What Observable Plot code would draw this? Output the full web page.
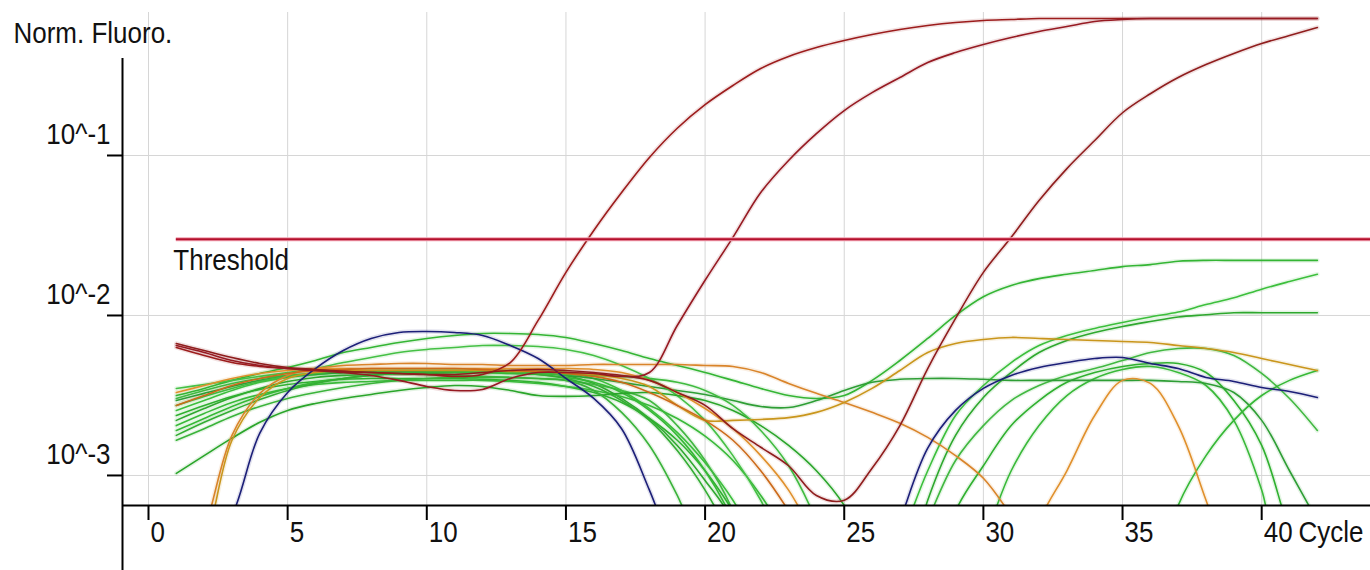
<!DOCTYPE html>
<html><head><meta charset="utf-8">
<script src="https://cdn.jsdelivr.net/npm/d3@7"></script>
<script src="https://cdn.jsdelivr.net/npm/@observablehq/plot@0.6"></script>
<style>body{margin:0;background:#fff}#chart{width:1370px;height:570px}</style>
</head><body><div id="chart"></div>
<script>
const cycles = [1,2,3,4,5,6,7,8,9,10,11,12,13,14,15,16,17,18,19,20,21,22,23,24,25,26,27,28,29,30,31,32,33,34,35,36,37,38,39,40,41,42];

const green1 = [0.00316,0.00350,0.00393,0.00434,0.00473,0.00523,0.00587,0.00631,0.00678,0.00718, 0.00750,0.00772,0.00772,0.00761,0.00729,0.00668,0.00604,0.00538,0.00487,0.00440, 0.00393,0.00350,0.00316,0.00303,0.00316,0.00393,0.00523,0.00718,0.0100,0.0131, 0.0154,0.0170,0.0181,0.0191,0.0202,0.0208,0.0218,0.0221,0.0221,0.0221, 0.0221,0.0221];
const green2 = [0.00255,0.00294,0.00340,0.00382,0.00410,0.00428,0.00440,0.00447,0.00453,0.00453, 0.00453,0.00453,0.00453,0.00447,0.00440,0.00404,0.00340,0.00262,0.00186,0.00120, 0.00070,0.00034,0.00017,0.00017,0.00017,0.00017,0.00039,0.00107,0.00237,0.00365, 0.00508,0.00649,0.00750,0.00830,0.00904,0.00979,0.0105,0.0117,0.0129,0.0146, 0.0163,0.0181];
const green3 = [0.00221,0.00262,0.00307,0.00350,0.00387,0.00410,0.00422,0.00428,0.00434,0.00434, 0.00440,0.00440,0.00440,0.00440,0.00422,0.00376,0.00303,0.00227,0.00154,0.00093, 0.00052,0.00017,0.00017,0.00017,0.00017,0.00017,0.00017,0.00070,0.00178,0.00307, 0.00440,0.00587,0.00698,0.00783,0.00854,0.00917,0.00979,0.0101,0.0104,0.0104, 0.0104,0.0104];
const green4 = [0.00303,0.00340,0.00376,0.00404,0.00422,0.00434,0.00440,0.00440,0.00434,0.00428, 0.00422,0.00416,0.00410,0.00404,0.00393,0.00370,0.00340,0.00294,0.00205,0.00124, 0.00060,0.00017,0.00017,0.00017,0.00017,0.00017,0.00017,0.00052,0.00124,0.00205, 0.00294,0.00365,0.00422,0.00466,0.00523,0.00587,0.00622,0.00622,0.00562,0.00434, 0.00303,0.00191];
const green5 = [0.00237,0.00274,0.00312,0.00345,0.00370,0.00387,0.00399,0.00404,0.00404,0.00404, 0.00404,0.00399,0.00393,0.00382,0.00360,0.00330,0.00286,0.00227,0.00166,0.00107, 0.00060,0.00030,0.00017,0.00017,0.00017,0.00017,0.00017,0.00017,0.00060,0.00115, 0.00205,0.00294,0.00382,0.00440,0.00480,0.00501,0.00501,0.00440,0.00294,0.00154, 0.00045,0.00017];
const green6 = [0.00205,0.00244,0.00286,0.00321,0.00350,0.00370,0.00382,0.00387,0.00393,0.00393, 0.00393,0.00393,0.00387,0.00376,0.00360,0.00340,0.00312,0.00274,0.00227,0.00176, 0.00124,0.00075,0.00039,0.00017,0.00017,0.00017,0.00017,0.00017,0.00017,0.00039, 0.00107,0.00205,0.00316,0.00404,0.00460,0.00480,0.00440,0.00365,0.00221,0.00081, 0.00017,0.00017];
const green7 = [0.00294,0.00326,0.00360,0.00393,0.00416,0.00428,0.00440,0.00447,0.00447,0.00447, 0.00447,0.00447,0.00440,0.00434,0.00422,0.00404,0.00382,0.00360,0.00340,0.00321, 0.00294,0.00270,0.00266,0.00294,0.00340,0.00382,0.00399,0.00404,0.00404,0.00399, 0.00393,0.00393,0.00393,0.00393,0.00393,0.00393,0.00387,0.00376,0.00330,0.00221, 0.00107,0.00052];
const green8 = [0.00191,0.00227,0.00270,0.00312,0.00350,0.00382,0.00404,0.00422,0.00434,0.00440, 0.00440,0.00440,0.00434,0.00428,0.00410,0.00382,0.00330,0.00255,0.00178,0.00107, 0.00052,0.00017,0.00017,0.00017,0.00017,0.00017,0.00017,0.00017,0.00017,0.00017, 0.00017,0.00017,0.00017,0.00017,0.00017,0.00017,0.00065,0.00133,0.00221,0.00316, 0.00393,0.00453];
const green9 = [0.00350,0.00370,0.00393,0.00416,0.00440,0.00466,0.00508,0.00546,0.00587,0.00613, 0.00631,0.00649,0.00649,0.00640,0.00613,0.00562,0.00487,0.00404,0.00316,0.00221, 0.00133,0.00070,0.00030,0.00017,0.00017,0.00017,0.00017,0.00017,0.00017,0.00017, 0.00017,0.00017,0.00017,0.00017,0.00017,0.00017,0.00017,0.00017,0.00017,0.00017, 0.00017,0.00017];
const green10 = [0.00103,0.00133,0.00171,0.00215,0.00255,0.00282,0.00303,0.00321,0.00340,0.00355, 0.00365,0.00360,0.00340,0.00316,0.00312,0.00316,0.00326,0.00330,0.00316,0.00294, 0.00255,0.00205,0.00154,0.00107,0.00065,0.00030,0.00017,0.00017,0.00017,0.00017, 0.00017,0.00017,0.00017,0.00017,0.00017,0.00017,0.00017,0.00017,0.00017,0.00017, 0.00017,0.00017];
const green11 = [0.00166,0.00196,0.00234,0.00270,0.00303,0.00330,0.00355,0.00376,0.00393,0.00404, 0.00410,0.00410,0.00410,0.00404,0.00393,0.00340,0.00248,0.00154,0.00075,0.00030, 0.00017,0.00017,0.00017,0.00017,0.00017,0.00017,0.00017,0.00017,0.00017,0.00017, 0.00017,0.00017,0.00017,0.00017,0.00017,0.00017,0.00017,0.00017,0.00017,0.00017, 0.00017,0.00017];
const green12 = [0.00178,0.00215,0.00255,0.00298,0.00340,0.00376,0.00404,0.00422,0.00434,0.00440, 0.00447,0.00447,0.00440,0.00428,0.00404,0.00360,0.00294,0.00221,0.00143,0.00081, 0.00039,0.00017,0.00017,0.00017,0.00017,0.00017,0.00017,0.00017,0.00017,0.00017, 0.00017,0.00017,0.00017,0.00017,0.00017,0.00017,0.00017,0.00017,0.00017,0.00017, 0.00017,0.00017];
const green13 = [0.00274,0.00312,0.00350,0.00387,0.00416,0.00434,0.00447,0.00453,0.00453,0.00453, 0.00453,0.00447,0.00440,0.00434,0.00428,0.00422,0.00416,0.00404,0.00382,0.00340, 0.00274,0.00191,0.00115,0.00052,0.00017,0.00017,0.00017,0.00017,0.00017,0.00017, 0.00017,0.00017,0.00017,0.00017,0.00017,0.00017,0.00017,0.00017,0.00017,0.00017, 0.00017,0.00017];

const orange1 = [0.00017,0.00045,0.00178,0.00326,0.00422,0.00466,0.00487,0.00494,0.00501,0.00501, 0.00494,0.00494,0.00487,0.00487,0.00487,0.00494,0.00494,0.00494,0.00494,0.00487, 0.00480,0.00440,0.00376,0.00326,0.00286,0.00248,0.00212,0.00173,0.00133,0.00096, 0.00056,0.00030,0.00017,0.00017,0.00017,0.00017,0.00017,0.00017,0.00017,0.00017, 0.00017,0.00017];
const orange2 = [0.00017,0.00036,0.00166,0.00307,0.00404,0.00440,0.00453,0.00453,0.00453,0.00453, 0.00453,0.00453,0.00447,0.00447,0.00440,0.00428,0.00404,0.00360,0.00274,0.00221, 0.00221,0.00224,0.00230,0.00248,0.00286,0.00350,0.00453,0.00587,0.00668,0.00708, 0.00729,0.00718,0.00708,0.00698,0.00688,0.00678,0.00649,0.00622,0.00587,0.00538, 0.00494,0.00453];
const orange3 = [0.00330,0.00365,0.00404,0.00434,0.00453,0.00466,0.00466,0.00466,0.00466,0.00466, 0.00466,0.00466,0.00466,0.00466,0.00466,0.00460,0.00440,0.00393,0.00330,0.00262, 0.00196,0.00133,0.00081,0.00039,0.00017,0.00017,0.00017,0.00017,0.00017,0.00017, 0.00017,0.00052,0.00107,0.00237,0.00393,0.00376,0.00205,0.00070,0.00023,0.00017, 0.00017,0.00017];
const orange4 = [0.00274,0.00316,0.00365,0.00404,0.00434,0.00453,0.00460,0.00466,0.00466,0.00466, 0.00466,0.00460,0.00453,0.00447,0.00434,0.00416,0.00382,0.00330,0.00274,0.00221, 0.00166,0.00107,0.00060,0.00030,0.00017,0.00017,0.00017,0.00017,0.00017,0.00017, 0.00017,0.00017,0.00017,0.00017,0.00017,0.00017,0.00017,0.00017,0.00017,0.00017, 0.00017,0.00017];

const navy1 = [0.00030,0.00030,0.00056,0.00184,0.00330,0.00466,0.00604,0.00718,0.00783,0.00794, 0.00783,0.00750,0.00649,0.00538,0.00404,0.00303,0.00196,0.00081,0.00030,0.00017, 0.00017,0.00017,0.00017,0.00017,0.00017,0.00017,0.00052,0.00148,0.00255,0.00350, 0.00422,0.00473,0.00508,0.00538,0.00546,0.00501,0.00466,0.00410,0.00387,0.00355, 0.00335,0.00307];

const redA = [0.00631,0.00562,0.00508,0.00480,0.00466,0.00453,0.00447,0.00440,0.00434,0.00428, 0.00416,0.00428,0.00508,0.00931,0.0186,0.0340,0.0587,0.0972,0.148,0.208, 0.274,0.350,0.416,0.473,0.523,0.570,0.613,0.649,0.678,0.698, 0.708,0.718,0.718,0.718,0.718,0.718,0.718,0.718,0.718,0.718, 0.718,0.718];
const redB = [0.00649,0.00587,0.00523,0.00487,0.00466,0.00453,0.00440,0.00422,0.00393,0.00360, 0.00340,0.00345,0.00404,0.00440,0.00440,0.00434,0.00416,0.00440,0.00866,0.0166, 0.0308,0.0587,0.0931,0.137,0.191,0.247,0.307,0.381,0.440,0.494, 0.546,0.596,0.640,0.688,0.708,0.718,0.718,0.718,0.718,0.718, 0.718,0.718];
const redC = [0.00668,0.00604,0.00546,0.00501,0.00473,0.00460,0.00447,0.00440,0.00434,0.00428, 0.00428,0.00440,0.00453,0.00460,0.00453,0.00440,0.00422,0.00393,0.00330,0.00274, 0.00196,0.00150,0.00115,0.00075,0.00070,0.00111,0.00205,0.00466,0.00958,0.0186, 0.0308,0.0523,0.0828,0.124,0.185,0.243,0.307,0.370,0.434,0.501, 0.562,0.631];

const seriesNames = ["G1","G2","G3","G4","G5","G6","G7","G8","G9","G10","G11","G12","G13","O1","O2","O3","O4","N1","R1","R2","R3"];
const seriesValues = [green1,green2,green3,green4,green5,green6,green7,green8,green9,green10,green11,green12,green13,orange1,orange2,orange3,orange4,navy1,redA,redB,redC];
const seriesColors = ["#34b534","#3cbf3c","#2ea82e","#41b841","#2fb02f","#39b939","#2e9e35","#36b836","#45c045","#2aa52a","#3ab33a","#33ad33","#40bb40","#d9842a","#c9961c","#e0902c","#cc6a1a","#1c1f78","#9c1c1c","#961a22","#8f1d1d"];

const xTicks = [0,5,10,15,20,25,30,35,40];
const xTickLabels = ["0","5","10","15","20","25","30","35","40"];
const yTicks = [0.1,0.01,0.001];
const yTickLabels = ["10^-1","10^-2","10^-3"];
const threshold = 0.030;
const thresholdStart = 1;

const rows = [];
seriesNames.forEach((name, s) => {
  seriesValues[s].forEach((v, i) => rows.push({series: name, cycle: cycles[i], value: v, color: seriesColors[s]}));
});

const xMin = -0.934, xMax = 43.91;
const yMin = 0.000649, yMax = 0.9306;
const gridTop = 0.783, axisTop = 0.404, axisBottom = 0.000255, xTickEnd = 0.000523, yTickStart = -1.473;
const font = 26;

const chart = Plot.plot({
  width: 1370, height: 570,
  marginLeft: 122, marginRight: 0, marginTop: 0, marginBottom: 65,
  x: {domain: [xMin, xMax], axis: null},
  y: {type: "log", domain: [yMin, yMax], axis: null},
  color: {type: "identity"},
  style: {fontFamily: "'Liberation Sans', Arial, sans-serif", background: "#fff", overflow: "visible", color: "#111"},
  marks: [
    Plot.ruleX(xTicks, {y1: gridTop, y2: yMin, stroke: "#d6d6d6", strokeWidth: 1}),
    Plot.ruleY(yTicks, {x1: xMin, x2: xMax, stroke: "#d6d6d6", strokeWidth: 1}),
    Plot.line(rows, {x: "cycle", y: "value", z: "series", stroke: "color", strokeWidth: 4.5, strokeOpacity: 0.13, curve: "catmull-rom", clip: true}),
    Plot.line(rows, {x: "cycle", y: "value", z: "series", stroke: "color", strokeWidth: 1.6, curve: "catmull-rom", clip: true}),
    Plot.ruleY([threshold], {x1: thresholdStart, x2: xMax, stroke: "#f2a0b0", strokeWidth: 4}),
    Plot.ruleY([threshold], {x1: thresholdStart, x2: xMax, stroke: "#b3102c", strokeWidth: 2}),
    Plot.text([threshold], {x: () => thresholdStart, y: d => d, text: () => "Threshold", dx: -3, dy: 21, textAnchor: "start", lineAnchor: "middle", fontSize: font, fill: "#111"}),
    Plot.ruleX([xMin], {y1: axisTop, y2: axisBottom, stroke: "#000", strokeWidth: 2}),
    Plot.ruleY([yMin], {x1: xMin, x2: xMax, stroke: "#000", strokeWidth: 2}),
    Plot.ruleY(yTicks, {x1: yTickStart, x2: xMin, stroke: "#000", strokeWidth: 2}),
    Plot.ruleX(xTicks, {y1: yMin, y2: xTickEnd, stroke: "#000", strokeWidth: 2}),
    Plot.text(xTicks, {x: d => d, text: (d, i) => xTickLabels[i], frameAnchor: "bottom", dx: 2, dy: 27, textAnchor: "start", lineAnchor: "middle", fontSize: font, fill: "#111"}),
    Plot.text(yTicks, {y: d => d, text: (d, i) => yTickLabels[i], frameAnchor: "left", dx: -12, dy: -21, textAnchor: "end", lineAnchor: "middle", fontSize: font, fill: "#111"}),
    Plot.text(["Norm. Fluoro."], {frameAnchor: "top-left", dx: -109, dy: 33, textAnchor: "start", lineAnchor: "middle", fontSize: font, fill: "#111"}),
    Plot.text(["Cycle"], {frameAnchor: "bottom-right", dx: -72, dy: 27, textAnchor: "start", lineAnchor: "middle", fontSize: font, fill: "#111"})
  ]
});
chart.querySelectorAll("text").forEach(t => {
  const tr = t.getAttribute("transform") || "";
  t.setAttribute("transform", tr + " scale(1,1.15)");
});
document.getElementById("chart").appendChild(chart);
</script>
</body></html>
